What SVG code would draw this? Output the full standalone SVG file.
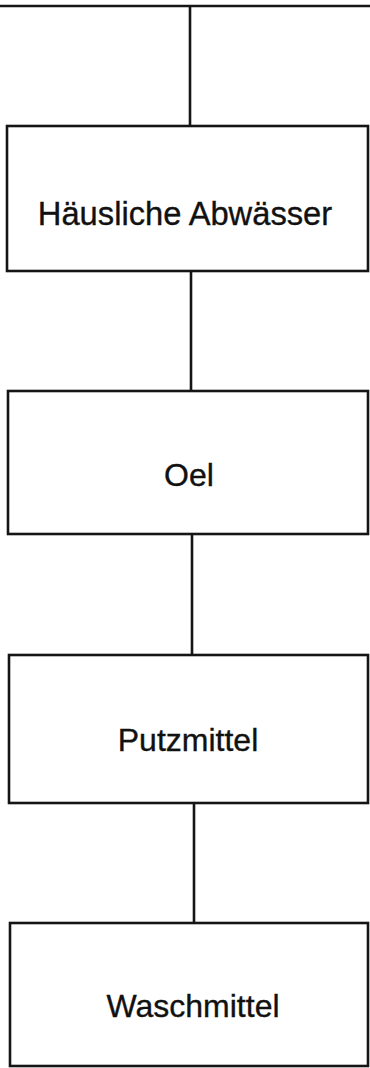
<svg xmlns="http://www.w3.org/2000/svg" width="370" height="1068" viewBox="0 0 370 1068">
<style>
.box{fill:#fff;stroke:#151515;stroke-width:2.6}
.lbl{font-family:"Liberation Sans",Arial,sans-serif;font-size:32px;fill:#111;stroke:#111;stroke-width:0.35;text-anchor:middle}
.con{stroke:#151515;stroke-width:2.6;fill:none}
</style>
<rect width="370" height="1068" fill="#fff"/>
<g id="connectors">
<line class="con" x1="0" y1="6" x2="370" y2="6"/>
<line class="con" x1="190" y1="6" x2="190" y2="126"/>
<line class="con" x1="191" y1="271" x2="191" y2="391"/>
<line class="con" x1="192" y1="534" x2="192" y2="655"/>
<line class="con" x1="194" y1="803" x2="194" y2="923"/>
</g>
<g id="node1">
<rect class="box" x="7" y="126" width="361" height="145"/>
<text class="lbl" x="185" y="225" style="font-size:32.7px">Häusliche Abwässer</text>
</g>
<g id="node2">
<rect class="box" x="8" y="391" width="360" height="143"/>
<text class="lbl" x="189" y="486">Oel</text>
</g>
<g id="node3">
<rect class="box" x="9" y="655" width="359" height="148"/>
<text class="lbl" x="188" y="751">Putzmittel</text>
</g>
<g id="node4">
<rect class="box" x="10" y="923" width="358" height="143"/>
<text class="lbl" x="193" y="1017">Waschmittel</text>
</g>
</svg>
